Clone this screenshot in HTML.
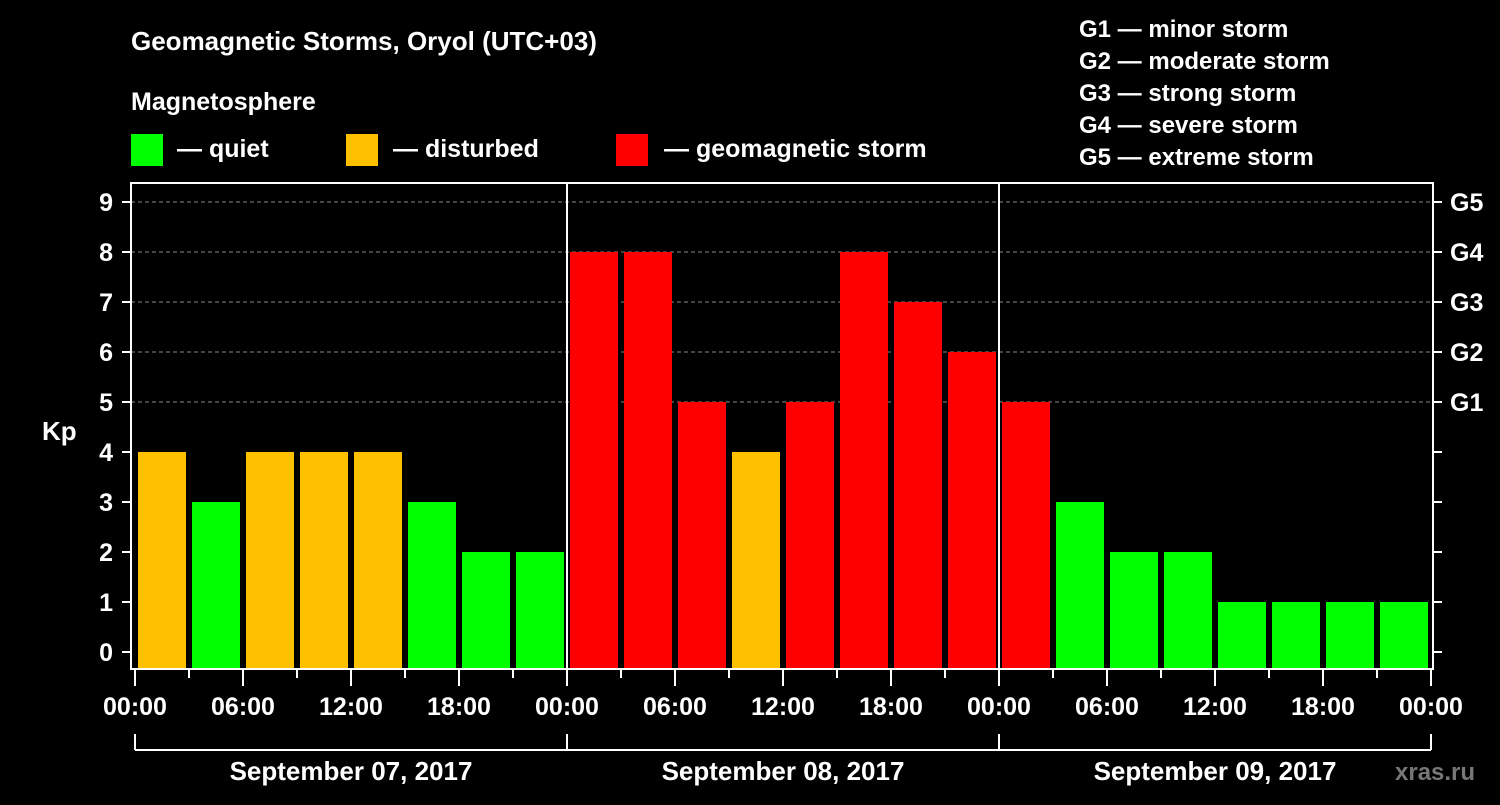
<!DOCTYPE html>
<html><head><meta charset="utf-8"><style>
body{margin:0;background:#000;width:1500px;height:800px;overflow:hidden}
svg text{font-family:"Liberation Sans",sans-serif;font-weight:bold;fill:#fff}
</style></head><body>
<svg id="c" width="1500" height="800">
<text x="131" y="50" font-size="26">Geomagnetic Storms, Oryol (UTC+03)</text>
<text x="131" y="110" font-size="25">Magnetosphere</text>
<g><rect x="131" y="134" width="32" height="32" fill="#00ff00"/><text x="177" y="157" font-size="25">— quiet</text></g>
<g><rect x="346" y="134" width="32" height="32" fill="#ffc000"/><text x="393" y="157" font-size="25">— disturbed</text></g>
<g><rect x="616" y="134" width="32" height="32" fill="#ff0000"/><text x="664" y="157" font-size="25">— geomagnetic storm</text></g>
<g font-size="24">
<text x="1079" y="37">G1 — minor storm</text><text x="1079" y="69">G2 — moderate storm</text><text x="1079" y="101">G3 — strong storm</text><text x="1079" y="133">G4 — severe storm</text><text x="1079" y="165">G5 — extreme storm</text></g>
<text x="42" y="440" font-size="26">Kp</text>
<text x="1395" y="780" font-size="24" fill="#888" style="fill:#777">xras.ru</text>
<g id="grid"></g><g id="bars"></g><g id="axes"></g>
</svg>
<script>
const values=[4,3,4,4,4,3,2,2, 8,8,5,4,5,8,7,6, 5,3,2,2,1,1,1,1];
const yTicks=[0,1,2,3,4,5,6,7,8,9];
const gLabels=['','','','','','G1','G2','G3','G4','G5'];
const xTickLabels=['00:00','06:00','12:00','18:00','00:00','06:00','12:00','18:00','00:00','06:00','12:00','18:00','00:00'];
const dayLabels=['September 07, 2017','September 08, 2017','September 09, 2017'];
const NS='http://www.w3.org/2000/svg';
const X0=135,STEP=54,Y0=652,YU=50,BOT=669,TOP=183,RIGHT=1433,LEFT=131;
const x=h=>X0+h/3*STEP, y=v=>Y0-v*YU;
function mk(p,t,a){const e=document.createElementNS(NS,t);for(const k in a)e.setAttribute(k,a[k]);p.appendChild(e);return e;}
const grid=document.getElementById('grid'),bars=document.getElementById('bars'),axes=document.getElementById('axes');
yTicks.forEach(v=>{
 if(v>=5){const l=mk(grid,'line',{x1:LEFT,x2:RIGHT,y1:y(v),y2:y(v),stroke:'#888','stroke-dasharray':'4,3','stroke-width':1});
 
 }
 mk(axes,'line',{x1:122,x2:LEFT,y1:y(v),y2:y(v),stroke:'#fff','stroke-width':2});
 mk(axes,'line',{x1:RIGHT,x2:1442,y1:y(v),y2:y(v),stroke:'#fff','stroke-width':2});
 const t=mk(axes,'text',{x:113,y:y(v)+9,'font-size':25,'text-anchor':'end'});t.textContent=v;
 
 
 if(gLabels[v]){const g=mk(axes,'text',{x:1450,y:y(v)+9,'font-size':25});g.textContent=gLabels[v];
 
 }
});
values.forEach((v,i)=>{
 const c=v>=5?'#ff0000':(v===4?'#ffc000':'#00ff00');
 const r=mk(bars,'rect',{x:x(i*3)+3,y:y(v),width:STEP-6,height:BOT-y(v),fill:c});
 
 
});
mk(axes,'rect',{x:LEFT,y:TOP,width:RIGHT-LEFT,height:BOT-TOP,fill:'none',stroke:'#fff','stroke-width':2});
[1,2].forEach(d=>mk(axes,'line',{x1:x(d*24),x2:x(d*24),y1:TOP,y2:BOT,stroke:'#fff','stroke-width':2}));
for(let i=0;i<=24;i++){const major=i%2===0;
 mk(axes,'line',{x1:x(i*3),x2:x(i*3),y1:BOT,y2:major?686:678,stroke:'#fff','stroke-width':2});}
xTickLabels.forEach((s,i)=>{const t=mk(axes,'text',{x:x(i*6),y:715,'font-size':25,'text-anchor':'middle'});t.textContent=s;
 
 });
mk(axes,'line',{x1:x(0),x2:x(72),y1:750,y2:750,stroke:'#fff','stroke-width':2});
for(let d=0;d<=3;d++)mk(axes,'line',{x1:x(d*24),x2:x(d*24),y1:734,y2:750,stroke:'#fff','stroke-width':2});
dayLabels.forEach((s,d)=>{const t=mk(axes,'text',{x:x(d*24+12),y:780,'font-size':26,'text-anchor':'middle'});t.textContent=s;
 
 });
</script>
</body></html>
